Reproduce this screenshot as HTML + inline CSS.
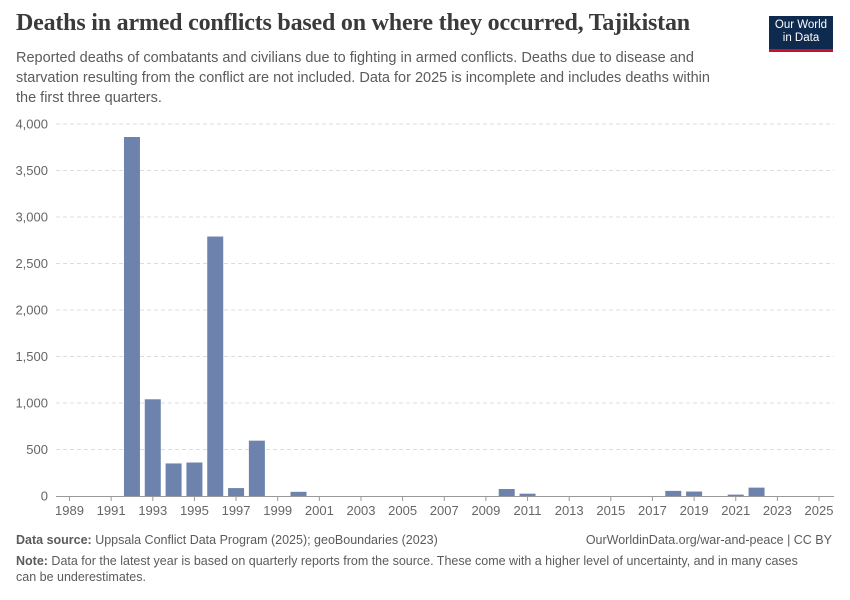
<!DOCTYPE html>
<html><head><meta charset="utf-8"><style>
body{margin:0;background:#fff;font-family:"Liberation Sans",sans-serif;}
#wrap{position:relative;width:850px;height:600px;overflow:hidden;}
.t{position:absolute;white-space:nowrap;}
</style></head><body>
<div id="wrap">
<div class="t" style="left:16px;top:10px;font-family:'Liberation Serif',serif;font-size:24px;font-weight:bold;color:#3a3a3a;letter-spacing:-0.2px">Deaths in armed conflicts based on where they occurred, Tajikistan</div>
<div class="t" style="left:16px;top:48px;font-size:14.5px;line-height:20px;color:#5b5b5b;white-space:normal;width:705px">Reported deaths of combatants and civilians due to fighting in armed conflicts. Deaths due to disease and starvation resulting from the conflict are not included. Data for 2025 is incomplete and includes deaths within the first three quarters.</div>
<div style="position:absolute;left:769px;top:16px;width:64px;height:36px;background:#0f2a4f;border-bottom:3px solid #c9102f;color:#fff;font-size:11.5px;line-height:13px;text-align:center;padding-top:3px;box-sizing:border-box">Our World<br>in Data</div>
<svg id="chart" width="850" height="600" style="position:absolute;left:0;top:0"></svg>
<div class="t" style="left:16px;top:533px;font-size:12.5px;color:#5b5b5b"><b>Data source:</b> Uppsala Conflict Data Program (2025); geoBoundaries (2023)</div>
<div class="t" style="right:18px;top:533px;font-size:12.5px;color:#5b5b5b">OurWorldinData.org/war-and-peace | CC BY</div>
<div class="t" style="left:16px;top:553px;font-size:12.5px;line-height:16px;color:#5b5b5b;white-space:normal;width:790px"><b>Note:</b> Data for the latest year is based on quarterly reports from the source. These come with a higher level of uncertainty, and in many cases can be underestimates.</div>
</div>
<script>
const years=[1992,1993,1994,1995,1996,1997,1998,2000,2010,2011,2018,2019,2021,2022];
const deaths=[3860,1040,350,360,2790,85,595,45,75,25,55,48,15,90];
const yTicks=[0,500,1000,1500,2000,2500,3000,3500,4000];
const xTicks=[1989,1991,1993,1995,1997,1999,2001,2003,2005,2007,2009,2011,2013,2015,2017,2019,2021,2023,2025];
const svg=document.getElementById('chart');const NS='http://www.w3.org/2000/svg';
const x=yr=>69.5+(yr-1989)*20.82;
const y=v=>496-v*0.093;
function mk(tag,attrs){const e=document.createElementNS(NS,tag);for(const k in attrs)e.setAttribute(k,attrs[k]);svg.appendChild(e);return e;}
yTicks.forEach(v=>{
 if(v>0){const l=mk('line',{x1:56,x2:834,y1:y(v),y2:y(v),stroke:'#ddd','stroke-dasharray':'4,3'});
 
 }
 const t=mk('text',{x:48,y:y(v)+4.5,'text-anchor':'end','font-size':13,fill:'#666','font-family':'Liberation Sans,sans-serif'});
 t.textContent=v.toLocaleString('en-US');
 
 
});
years.forEach((yr,i)=>{
 const b=mk('rect',{x:x(yr)-8,width:16,y:y(deaths[i]),height:496-y(deaths[i]),fill:'#6d83ad'});
 
 
});
const ax=mk('line',{x1:56,x2:834,y1:496.5,y2:496.5,stroke:'#999'});


xTicks.forEach(yr=>{
 const tk=mk('line',{x1:x(yr),x2:x(yr),y1:496,y2:501,stroke:'#999'});
 
 
 const t=mk('text',{x:x(yr),y:515,'text-anchor':'middle','font-size':13,fill:'#666','font-family':'Liberation Sans,sans-serif'});
 t.textContent=yr;
 
 
});
</script>
</body></html>
